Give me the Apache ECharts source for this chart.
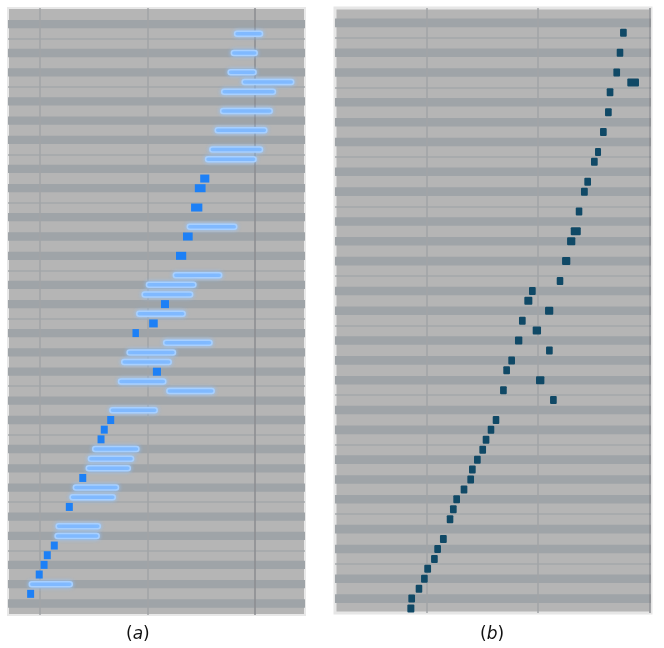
<!DOCTYPE html>
<html>
<head>
<meta charset="utf-8">
<script src="https://cdn.jsdelivr.net/npm/echarts@6/dist/echarts.min.js"></script>
<style>
  html, body { margin: 0; padding: 0; background: #fff; }
  #main { width: 664px; height: 648px; }
</style>
</head>
<body>
<div id="main"></div>
<script>
// piano roll: pitch rows, time in beats
var TOP_PITCH = 91;

// (a) long notes: [pitch, start, end]
var longNotesA = [
  [89, 1.81, 2.07], [87, 1.78, 2.02], [85, 1.75, 2.01], [84, 1.88, 2.36],
  [83, 1.69, 2.19], [81, 1.68, 2.16], [79, 1.63, 2.11], [77, 1.58, 2.07],
  [76, 1.54, 2.01], [69, 1.37, 1.83], [64, 1.24, 1.69], [63, 0.99, 1.45],
  [62, 0.95, 1.42], [60, 0.90, 1.35], [57, 1.15, 1.60], [56, 0.81, 1.26],
  [55, 0.76, 1.22], [53, 0.73, 1.17], [52, 1.18, 1.62], [50, 0.65, 1.09],
  [46, 0.49, 0.92], [45, 0.45, 0.87], [44, 0.43, 0.84], [42, 0.31, 0.73],
  [41, 0.28, 0.70], [38, 0.15, 0.56], [37, 0.14, 0.55], [32, -0.10, 0.30]
];

// (a) short notes: [pitch, start, end]
var shortNotesA = [
  [74, 1.49, 1.575], [73, 1.44, 1.54], [71, 1.405, 1.51], [68, 1.33, 1.42],
  [66, 1.265, 1.36], [61, 1.125, 1.20], [59, 1.015, 1.095], [58, 0.86, 0.92],
  [54, 1.05, 1.125], [49, 0.625, 0.69], [48, 0.565, 0.63], [47, 0.535, 0.60],
  [43, 0.365, 0.43], [40, 0.24, 0.305], [36, 0.10, 0.165], [35, 0.035, 0.10],
  [34, 0.005, 0.07], [33, -0.04, 0.025], [31, -0.12, -0.055]
];

// (b) onsets: [pitch, start, end]
var onsetsB = [
  [89, 1.737, 1.797], [87, 1.707, 1.766], [85, 1.677, 1.737], [84, 1.802, 1.907],
  [83, 1.617, 1.677], [81, 1.602, 1.662], [79, 1.557, 1.617], [77, 1.512, 1.566],
  [76, 1.476, 1.536], [74, 1.416, 1.476], [73, 1.386, 1.447], [71, 1.339, 1.398],
  [69, 1.294, 1.384], [68, 1.261, 1.335], [66, 1.216, 1.290], [64, 1.168, 1.227],
  [63, 0.919, 0.979], [62, 0.877, 0.949], [61, 1.063, 1.137], [60, 0.829, 0.889],
  [59, 0.952, 1.027], [58, 0.793, 0.859], [57, 1.072, 1.132], [56, 0.733, 0.793],
  [55, 0.688, 0.748], [54, 0.982, 1.057], [53, 0.659, 0.719], [52, 1.108, 1.168],
  [50, 0.593, 0.652], [49, 0.548, 0.607], [48, 0.503, 0.563], [47, 0.473, 0.533],
  [46, 0.425, 0.485], [45, 0.380, 0.440], [44, 0.365, 0.425], [43, 0.305, 0.365],
  [42, 0.239, 0.299], [41, 0.209, 0.269], [40, 0.180, 0.239], [38, 0.119, 0.180],
  [37, 0.068, 0.128], [36, 0.039, 0.099], [35, -0.022, 0.039], [34, -0.051, 0.009],
  [33, -0.099, -0.040], [32, -0.165, -0.105], [31, -0.174, -0.111]
];

var beatsA = [0, 1];
var barA = 2;
var beatsB = [0, 1];
var barB = 2;

var myChart = echarts.init(document.getElementById('main'));

var BLACK = [1, 3, 6, 8, 10];
function keyBands(lo, hi) {
  var areas = [], lines = [];
  for (var p = Math.ceil(lo); p <= Math.floor(hi); p++) {
    if (BLACK.indexOf(p % 12) >= 0) {
      areas.push([{ yAxis: p - 0.43 }, { yAxis: p + 0.43 }]);
    } else if (p % 12 === 4 || p % 12 === 11) {
      // E/F and B/C boundaries
      lines.push({ yAxis: p + 0.5 });
    }
  }
  return { areas: areas, lines: lines };
}

function beatLines(beats, bar) {
  var out = [];
  beats.forEach(function (b) {
    out.push({ xAxis: b, lineStyle: { color: '#a2a4a7', width: 1.5 } });
  });
  out.push({ xAxis: bar, lineStyle: { color: '#8b8d90', width: 1.5 } });
  return out;
}

function noteRender(h, r, style) {
  return function (params, api) {
    var s = api.coord([api.value(1), api.value(0)]);
    var e = api.coord([api.value(2), api.value(0)]);
    return {
      type: 'rect',
      shape: { x: s[0], y: s[1] - h / 2, width: e[0] - s[0], height: h, r: r },
      style: style
    };
  };
}

var rangeA = [28.81, 91.66];
var rangeB = [30.55, 91.5];
var kA = keyBands(rangeA[0], rangeA[1]);
var kB = keyBands(rangeB[0], rangeB[1]);

function bgSeries(idx, k, beats, bar) {
  return {
    type: 'line', xAxisIndex: idx, yAxisIndex: idx, data: [], silent: true, z: 1,
    markArea: {
      silent: true,
      itemStyle: { color: '#9fa4a8' },
      data: k.areas
    },
    markLine: {
      silent: true, symbol: 'none', label: { show: false },
      lineStyle: { color: '#a5a8ab', width: 1.5, type: 'solid' },
      data: k.lines.concat(beatLines(beats, bar))
    }
  };
}

var hidden = { show: false };

var option = {
  animation: false,
  grid: [
    { left: 8, top: 8, width: 297, height: 607, show: true, backgroundColor: '#b5b5b5', borderColor: '#e8e8e8', borderWidth: 2 },
    { left: 335, top: 8, width: 316, height: 605, show: true, backgroundColor: '#b5b5b5', borderColor: '#e6e6e6', borderWidth: 3 }
  ],
  xAxis: [
    { type: 'value', gridIndex: 0, min: -0.298, max: 2.465, axisLine: hidden, axisTick: hidden, axisLabel: hidden, splitLine: hidden },
    { type: 'value', gridIndex: 1, min: -0.824, max: 2.015, axisLine: hidden, axisTick: hidden, axisLabel: hidden, splitLine: hidden }
  ],
  yAxis: [
    { type: 'value', gridIndex: 0, min: rangeA[0], max: rangeA[1], axisLine: hidden, axisTick: hidden, axisLabel: hidden, splitLine: hidden },
    { type: 'value', gridIndex: 1, min: rangeB[0], max: rangeB[1], axisLine: hidden, axisTick: hidden, axisLabel: hidden, splitLine: hidden }
  ],
  series: [
    bgSeries(0, kA, beatsA, barA),
    bgSeries(1, kB, beatsB, barB),
    {
      name: 'long', type: 'custom', xAxisIndex: 0, yAxisIndex: 0, z: 10,
      encode: { x: [1, 2], y: 0 },
      renderItem: noteRender(5, 3, {
        fill: '#78b5ff', stroke: '#a8d0ff', lineWidth: 1.5,
        shadowBlur: 4, shadowColor: 'rgba(150,200,255,0.9)'
      }),
      data: longNotesA
    },
    {
      name: 'short', type: 'custom', xAxisIndex: 0, yAxisIndex: 0, z: 10,
      encode: { x: [1, 2], y: 0 },
      renderItem: noteRender(8, 0, { fill: '#1d80f6' }),
      data: shortNotesA
    },
    {
      name: 'onset', type: 'custom', xAxisIndex: 1, yAxisIndex: 1, z: 10,
      encode: { x: [1, 2], y: 0 },
      renderItem: noteRender(8, 1, { fill: '#104966' }),
      data: onsetsB
    }
  ],
  graphic: [
    {
      type: 'text', left: 126, top: 626,
      style: {
        text: '({i|a})', font: '17px "DejaVu Sans"', fill: '#111',
        rich: { i: { fontStyle: 'italic', fontSize: 17, fontFamily: 'DejaVu Sans' } }
      }
    },
    {
      type: 'text', left: 480, top: 626,
      style: {
        text: '({i|b})', font: '17px "DejaVu Sans"', fill: '#111',
        rich: { i: { fontStyle: 'italic', fontSize: 17, fontFamily: 'DejaVu Sans' } }
      }
    }
  ]
};

myChart.setOption(option);
</script>
</body>
</html>
